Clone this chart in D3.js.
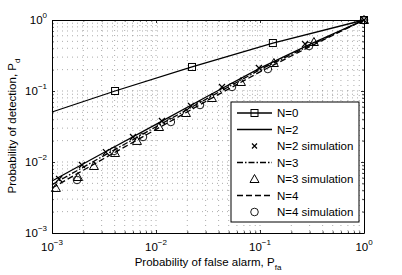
<!DOCTYPE html>
<html><head><meta charset="utf-8">
<script src="https://cdn.jsdelivr.net/npm/d3@7"></script>
<style>body{margin:0;background:#fff}svg{display:block;font-family:"Liberation Sans",Arial,sans-serif}</style>
</head><body><svg id="c" width="402" height="275"></svg>
<script>
// theory curves
const pfaN0 = [0.001, 0.00404, 0.0222, 0.133, 1];
const pdN0  = [0.0506, 0.1, 0.218, 0.474, 1];
const pfaTheory = [0.001, 0.00316, 0.01, 0.0316, 0.1, 0.316, 1];
const pdN2 = [0.0054, 0.0136, 0.0339, 0.0851, 0.21, 0.468, 1];
const pdN3 = [0.0048, 0.0123, 0.0313, 0.0794, 0.2, 0.452, 1];
const pdN4 = [0.0043, 0.0112, 0.0288, 0.0741, 0.186, 0.437, 1];
// simulations
const pfaSim2 = [0.00117, 0.00194, 0.0033, 0.00601, 0.0114, 0.0217, 0.0431, 0.0977, 0.271, 1];
const pdSim2  = [0.00577, 0.00908, 0.0138, 0.0225, 0.0378, 0.0615, 0.114, 0.211, 0.459, 1];
const pfaSim3 = [0.00109, 0.00178, 0.00253, 0.00404, 0.00656, 0.0107, 0.0194, 0.0345, 0.0656, 0.136, 0.33, 1];
const pdSim3  = [0.00431, 0.00615, 0.00879, 0.0134, 0.0198, 0.0311, 0.049, 0.0797, 0.134, 0.248, 0.49, 1];
const pfaSim4 = [0.00174, 0.00394, 0.0075, 0.0139, 0.0265, 0.0538, 0.119, 0.296, 1];
const pdSim4  = [0.00558, 0.0143, 0.0225, 0.0366, 0.0635, 0.114, 0.204, 0.43, 1];
const tickVals = [0.001, 0.01, 0.1, 1];
const tickExp = ["−3", "−2", "−1", "0"];
const legendLabels = ["N=0", "N=2", "N=2 simulation", "N=3", "N=3 simulation", "N=4", "N=4 simulation"];

const svg = d3.select("#c");
const L = 52, R = 364, T = 20, B = 233;
const x = d3.scaleLog().domain([0.001, 1]).range([L, R]);
const y = d3.scaleLog().domain([0.001, 1]).range([B, T]);

svg.append("rect").attr("x", 0).attr("y", 0).attr("width", 402).attr("height", 275).attr("fill", "#fff");

const allTicks = [];
for (let e = -3; e < 0; e++) for (let m = 1; m < 10; m++) allTicks.push(m * Math.pow(10, e));
allTicks.push(1);

const g = svg.append("g");
allTicks.forEach(v => {
  if (v > 0.001 && v < 1) {
    g.append("line").attr("x1", x(v)).attr("x2", x(v)).attr("y1", T).attr("y2", B)
      .attr("stroke", "#888").attr("stroke-width", 0.7).attr("stroke-dasharray", "1,4");
    g.append("line").attr("y1", y(v)).attr("y2", y(v)).attr("x1", L).attr("x2", R)
      .attr("stroke", "#888").attr("stroke-width", 0.7).attr("stroke-dasharray", "1,4");
  }
});

const axB = d3.axisBottom(x).tickValues(allTicks).tickSizeInner(-3).tickSizeOuter(0).tickFormat("");
const axT = d3.axisTop(x).tickValues(allTicks).tickSizeInner(-3).tickSizeOuter(0).tickFormat("");
const axLft = d3.axisLeft(y).tickValues(allTicks).tickSizeInner(-3).tickSizeOuter(0).tickFormat("");
const axRt = d3.axisRight(y).tickValues(allTicks).tickSizeInner(-3).tickSizeOuter(0).tickFormat("");
function styleAx(sel){
  sel.selectAll("path").attr("stroke", "#000").attr("stroke-width", 1);
  sel.selectAll(".tick line").attr("stroke", "#000").attr("stroke-width", 0.8);
}
const gb = svg.append("g").attr("transform", `translate(0,${B})`).call(axB); styleAx(gb);
const gt = svg.append("g").attr("transform", `translate(0,${T})`).call(axT); styleAx(gt);
const gl = svg.append("g").attr("transform", `translate(${L},0)`).call(axLft); styleAx(gl);
const gr = svg.append("g").attr("transform", `translate(${R},0)`).call(axRt); styleAx(gr);
[gb, gt].forEach(s => s.selectAll(".tick").each(function(d){
  const major = tickVals.some(t => Math.abs(t - d) / t < 1e-6);
  if (!major) d3.select(this).select("line").attr("y2", (s === gb ? -1.7 : 1.7));
}));
[gl, gr].forEach(s => s.selectAll(".tick").each(function(d){
  const major = tickVals.some(t => Math.abs(t - d) / t < 1e-6);
  if (!major) d3.select(this).select("line").attr("x2", (s === gl ? 1.7 : -1.7));
}));

tickVals.forEach((v, i) => {
  const tx = svg.append("text").attr("x", x(v)).attr("y", 251).attr("text-anchor", "middle")
    .attr("font-size", 11.5).attr("fill", "#000");
  tx.append("tspan").text("10");
  tx.append("tspan").attr("dy", -6).attr("font-size", 8).text(tickExp[i]);
  const ty = svg.append("text").attr("x", 47).attr("y", y(v) + 4).attr("text-anchor", "end")
    .attr("font-size", 11.5).attr("fill", "#000");
  ty.append("tspan").text("10");
  ty.append("tspan").attr("dy", -6).attr("font-size", 8).text(tickExp[i]);
});

const xl = svg.append("text").attr("x", 208).attr("y", 266).attr("text-anchor", "middle")
  .attr("font-size", 11.5).attr("fill", "#000");
xl.append("tspan").text("Probability of false alarm, P");
xl.append("tspan").attr("dy", 4).attr("font-size", 8).text("fa");
const yl = svg.append("text").attr("transform", `translate(16,126) rotate(-90)`).attr("text-anchor", "middle")
  .attr("font-size", 11.5).attr("fill", "#000");
yl.append("tspan").text("Probability of detection, P");
yl.append("tspan").attr("dy", 4).attr("font-size", 8).text("d");

const line = d3.line().x(d => x(d[0])).y(d => y(d[1]));
const pg = svg.append("g");
function drawLine(xs, ys, dash) {
  pg.append("path").datum(xs.map((v, i) => [v, ys[i]])).attr("d", line)
    .attr("fill", "none").attr("stroke", "#000").attr("stroke-width", 1.3)
    .attr("stroke-dasharray", dash || null);
}
drawLine(pfaN0, pdN0);
drawLine(pfaTheory, pdN2);
drawLine(pfaTheory, pdN3, "6,2,1.5,2");
drawLine(pfaTheory, pdN4, "6,3");

function square(g, cx, cy) {
  g.append("rect").attr("x", cx - 3.5).attr("y", cy - 3.5).attr("width", 7).attr("height", 7)
    .attr("fill", "none").attr("stroke", "#000").attr("stroke-width", 1);
}
function cross(g, cx, cy, s) {
  s = s || 3;
  g.append("path").attr("d", `M${cx-s},${cy-s}L${cx+s},${cy+s}M${cx-s},${cy+s}L${cx+s},${cy-s}`)
    .attr("stroke", "#000").attr("stroke-width", 1.2);
}
function tri(g, cx, cy) {
  g.append("path").attr("d", `M${cx},${cy-4.5}L${cx+4.5},${cy+3.5}L${cx-4.5},${cy+3.5}Z`)
    .attr("fill", "none").attr("stroke", "#000").attr("stroke-width", 1);
}
function circ(g, cx, cy) {
  g.append("circle").attr("cx", cx).attr("cy", cy).attr("r", 3.8)
    .attr("fill", "none").attr("stroke", "#000").attr("stroke-width", 0.9);
}
pfaN0.slice(1).forEach((v, i) => square(pg, x(v), y(pdN0[i + 1])));
pfaSim2.forEach((v, i) => cross(pg, x(v), y(pdSim2[i])));
pfaSim3.forEach((v, i) => tri(pg, x(v), y(pdSim3[i])));
pfaSim4.forEach((v, i) => circ(pg, x(v), y(pdSim4[i])));

const lg = svg.append("g");
lg.append("rect").attr("x", 231).attr("y", 102).attr("width", 128).attr("height", 120)
  .attr("fill", "#fff").attr("stroke", "#000").attr("stroke-width", 1);
const ly0 = 113, lstep = 16.5, lx1 = 237, lx2 = 272;
legendLabels.forEach((lab, i) => {
  const yy = ly0 + i * lstep;
  if (i === 0) { lg.append("line").attr("x1", lx1).attr("x2", lx2).attr("y1", yy).attr("y2", yy).attr("stroke", "#000").attr("stroke-width", 1.3); square(lg, (lx1 + lx2) / 2, yy); }
  if (i === 1) lg.append("line").attr("x1", lx1).attr("x2", lx2).attr("y1", yy).attr("y2", yy).attr("stroke", "#000").attr("stroke-width", 1.3);
  if (i === 2) cross(lg, (lx1 + lx2) / 2, yy, 2.5);
  if (i === 3) lg.append("line").attr("x1", lx1).attr("x2", lx2).attr("y1", yy).attr("y2", yy).attr("stroke", "#000").attr("stroke-width", 1.3).attr("stroke-dasharray", "6,2,1.5,2");
  if (i === 4) tri(lg, (lx1 + lx2) / 2, yy);
  if (i === 5) lg.append("line").attr("x1", lx1).attr("x2", lx2).attr("y1", yy).attr("y2", yy).attr("stroke", "#000").attr("stroke-width", 1.3).attr("stroke-dasharray", "6,3");
  if (i === 6) circ(lg, (lx1 + lx2) / 2, yy);
  lg.append("text").attr("x", 277).attr("y", yy + 4).attr("font-size", 11.5).attr("fill", "#000").text(lab);
});
</script></body></html>
